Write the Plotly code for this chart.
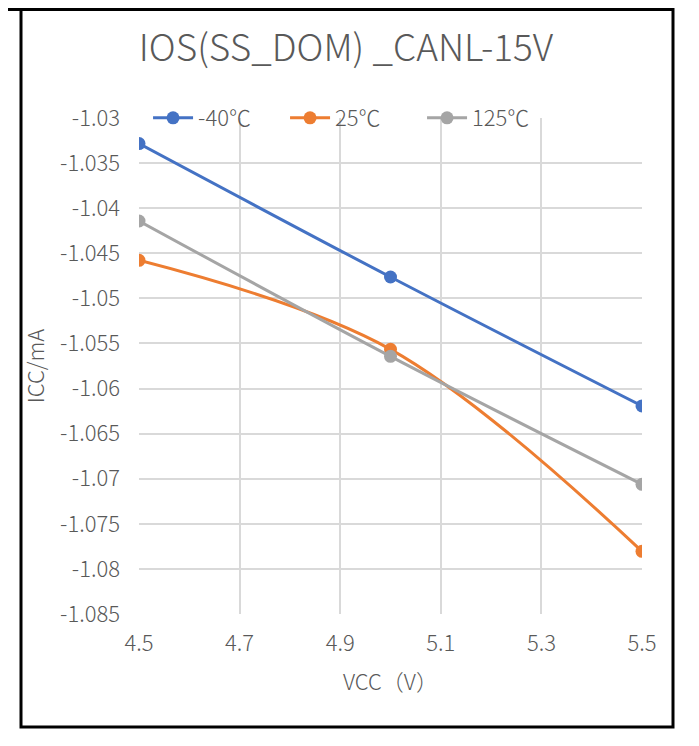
import plotly.graph_objects as go

# data
vcc = [4.5, 5.0, 5.5]
icc_m40 = [-1.03284, -1.04763, -1.06193]
icc_25 = [-1.04578, -1.05565, -1.07805]
icc_125 = [-1.04142, -1.05643, -1.07062]
series_names = ["-40℃", "25℃", "125℃"]
series_colors = ["#4472C4", "#ED7D31", "#A5A5A5"]

x_ticks = [4.5, 4.7, 4.9, 5.1, 5.3, 5.5]
y_ticks = [-1.03, -1.035, -1.04, -1.045, -1.05, -1.055, -1.06, -1.065,
           -1.07, -1.075, -1.08, -1.085]
y_ticktext = ["-1.03", "-1.035", "-1.04", "-1.045", "-1.05", "-1.055", "-1.06",
              "-1.065", "-1.07", "-1.075", "-1.08", "-1.085"]

FONT = "Noto Sans CJK SC, Noto Sans, sans-serif"
TXT = "#595959"

fig = go.Figure()
for name, ys, col in zip(series_names, [icc_m40, icc_25, icc_125], series_colors):
    fig.add_trace(go.Scatter(
        x=vcc, y=ys, name=name, mode="lines+markers",
        line=dict(color=col, width=3, shape="spline", smoothing=1),
        marker=dict(color=col, size=13)))

# page has an 8px body margin; keep the figure small enough to avoid scrollbars
fig.update_layout(
    width=683, height=730,
    paper_bgcolor="white", plot_bgcolor="white",
    margin=dict(l=131, r=49, t=110, b=124),
    font=dict(family=FONT, color=TXT, size=22, weight=300),
    title=dict(text="IOS(SS_DOM) _CANL-15V", x=(346 - 8) / 683, xanchor="center",
               y=1 - 40 / 730, yanchor="middle",
               font=dict(size=37, color=TXT, family=FONT, weight=300)),
    legend=dict(orientation="h", x=0.018, xanchor="left", y=1.0, yanchor="middle",
                bgcolor="rgba(0,0,0,0)", font=dict(size=22, color=TXT),
                entrywidth=82, itemwidth=40, traceorder="normal"),
    showlegend=True,
)

fig.update_xaxes(
    range=[4.5, 5.5], tickvals=x_ticks, ticktext=[str(v) for v in x_ticks],
    showgrid=True, gridcolor="#D9D9D9", gridwidth=1.5,
    zeroline=False, showline=False, ticks="", ticklabelstandoff=14,
    title=dict(text="VCC（V）", font=dict(size=22, color=TXT), standoff=18),
)
fig.update_yaxes(
    range=[-1.085, -1.03], tickvals=y_ticks, ticktext=y_ticktext,
    showgrid=True, gridcolor="#D9D9D9", gridwidth=1.5,
    zeroline=False, showline=False, ticks="", ticklabelstandoff=18,
    title=dict(text="ICC/mA", font=dict(size=22, color=TXT), standoff=9),
)

# outer black frame
fig.add_shape(type="rect", xref="paper", yref="paper",
              x0=(21 - 139) / 503, x1=(673 - 139) / 503,
              y0=(614 - 727) / 496, y1=(614 - 9.5) / 496,
              line=dict(color="black", width=3), fillcolor="rgba(0,0,0,0)")
fig.add_shape(type="line", xref="paper", yref="paper",
              x0=-131 / 503, x1=(673 - 139) / 503,
              y0=(614 - 9.5) / 496, y1=(614 - 9.5) / 496,
              line=dict(color="black", width=3))

fig.write_html("out.html")
